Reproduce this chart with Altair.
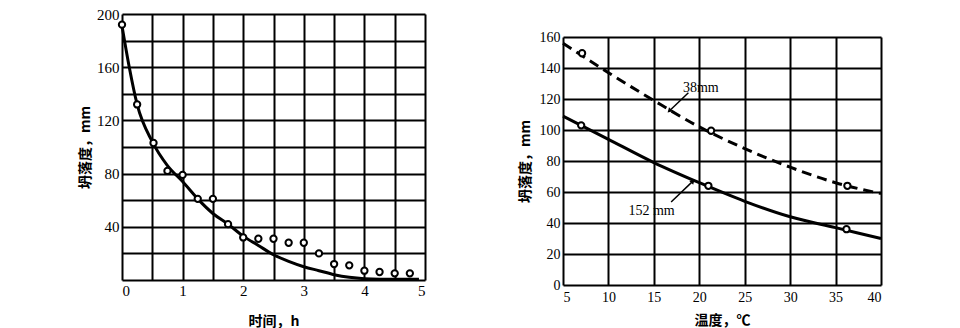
import altair as alt
import pandas as pd

# ---------------- Left panel: slump vs time ----------------
time_obs = [0, 0.25, 0.52, 0.75, 1.0, 1.25, 1.5, 1.75, 2.0, 2.25, 2.5, 2.75, 3.0, 3.25, 3.5, 3.75, 4.0, 4.25, 4.5, 4.75]
slump_obs = [192, 132, 103, 82, 79, 61, 61, 42, 32, 31, 31, 28, 28, 20, 12, 11, 7, 6, 5, 5]
time_fit = [0, 0.12, 0.25, 0.5, 0.75, 1.0, 1.25, 1.5, 1.75, 2.0, 2.25, 2.5, 2.75, 3.0, 3.25, 3.5, 3.75, 4.0, 4.5, 4.9]
slump_fit = [191, 160, 132, 104, 86, 74, 61, 50, 42, 33, 26, 19, 14, 10, 7, 4, 2, 1, 0.5, 0.5]

# ---------------- Right panel: slump vs temperature ----------------
temp_obs_38 = [7.1, 21.3, 36.3]
slump_obs_38 = [149.5, 99.5, 64]
temp_obs_152 = [7.0, 21.0, 36.2]
slump_obs_152 = [103, 64, 36]
temp_fit = [5, 10, 15, 20, 25, 30, 35, 40]
slump_fit_38 = [156, 137, 119, 102, 88, 76, 66, 59]
slump_fit_152 = [109, 94, 79, 66, 54, 44, 37, 30]

ann_text = ["38mm", "152 mm"]
ann_x = [18.2, 12.2]
ann_y = [127, 47.7]
arrow_x1 = [18.8, 16.9]
arrow_y1 = [124, 53.5]
arrow_x2 = [16.7, 19.3]
arrow_y2 = [112.3, 67]

SERIF = "Liberation Serif"
CJK = "Noto Sans CJK SC"

left_pts = pd.DataFrame({"t": time_obs, "s": slump_obs})
left_fit = pd.DataFrame({"t": time_fit, "s": slump_fit})

xl = alt.X("t:Q", scale=alt.Scale(domain=[0, 5], nice=False, zero=False),
           axis=alt.Axis(values=[i * 0.5 for i in range(11)], format=".1f",
                         labelExpr="datum.value % 1 == 0 ? format(datum.value, 'd') : ''",
                         labelOverlap=False,
                         title="时间，h", labelFontSize=15, labelFont=SERIF,
                         labelPadding=3, titlePadding=16, titleFont=CJK,
                         titleFontSize=14, titleFontWeight="bold"))
yl = alt.Y("s:Q", scale=alt.Scale(domain=[0, 200], nice=False),
           axis=alt.Axis(values=[i * 20 for i in range(11)],
                         labelExpr="datum.value % 40 == 0 && datum.value > 0 ? datum.label : ''",
                         labelOverlap=False,
                         title="坍落度，mm", labelFontSize=15, labelFont=SERIF,
                         labelPadding=3, titlePadding=4, titleFont=CJK,
                         titleFontSize=14, titleFontWeight="bold"))

left_line = alt.Chart(left_fit).mark_line(color="black", strokeWidth=3, interpolate="monotone").encode(x=xl, y=yl)
left_points = alt.Chart(left_pts).mark_point(shape="circle", size=40, fill="white", fillOpacity=1,
                                             stroke="black", strokeWidth=2, opacity=1).encode(x=xl, y=yl)
left = alt.layer(left_line, left_points).properties(width=303, height=266)

# right
fit_df = pd.DataFrame({"T": temp_fit * 2, "S": slump_fit_38 + slump_fit_152,
                       "series": ["38mm"] * len(temp_fit) + ["152mm"] * len(temp_fit)})
obs_df = pd.DataFrame({"T": temp_obs_38 + temp_obs_152, "S": slump_obs_38 + slump_obs_152})
ann_df = pd.DataFrame({"T": ann_x, "S": ann_y, "label": ann_text})
arr_df = pd.DataFrame({"T": arrow_x1, "S": arrow_y1, "T2": arrow_x2, "S2": arrow_y2, "k": [0, 1]})
head_df = pd.DataFrame({"T": arrow_x2, "S": arrow_y2, "k": [0, 1]})

xr = alt.X("T:Q", scale=alt.Scale(domain=[5, 40], nice=False, zero=False),
           axis=alt.Axis(values=[5 + 5 * i for i in range(8)], title="温度，℃", labelOverlap=False,
                         labelFontSize=14, labelFont=SERIF, labelPadding=5, titlePadding=9,
                         titleFont=CJK, titleFontSize=14, titleFontWeight="bold"))
yr = alt.Y("S:Q", scale=alt.Scale(domain=[0, 160], nice=False),
           axis=alt.Axis(values=[20 * i for i in range(9)], title="坍落度，mm", labelOverlap=False,
                         labelFontSize=14, labelFont=SERIF, labelPadding=3, titlePadding=7,
                         titleFont=CJK, titleFontSize=14, titleFontWeight="bold"))

dash_line = alt.Chart(fit_df).transform_filter("datum.series == '38mm'").mark_line(
    color="black", strokeWidth=3, strokeDash=[10, 6], interpolate="monotone").encode(x=xr, y=yr)
solid_line = alt.Chart(fit_df).transform_filter("datum.series == '152mm'").mark_line(
    color="black", strokeWidth=3, interpolate="monotone").encode(x=xr, y=yr)
right_points = alt.Chart(obs_df).mark_point(shape="circle", size=40, fill="white", fillOpacity=1,
                                            stroke="black", strokeWidth=2, opacity=1).encode(x=xr, y=yr)
texts = alt.Chart(ann_df).mark_text(align="left", baseline="middle", font=SERIF, fontSize=14,
                                    color="black").encode(x=xr, y=yr, text="label:N")
arrows = alt.Chart(arr_df).mark_rule(color="black", strokeWidth=1.5).encode(
    x=xr, y=yr, x2="T2:Q", y2="S2:Q")
head1 = alt.Chart(head_df).transform_filter("datum.k == 0").mark_point(
    shape="triangle-up", filled=True, color="black", size=30, opacity=1, angle=225).encode(x=xr, y=yr)
head2 = alt.Chart(head_df).transform_filter("datum.k == 1").mark_point(
    shape="triangle-up", filled=True, color="black", size=30, opacity=1, angle=45).encode(x=xr, y=yr)

right = alt.layer(dash_line, solid_line, right_points, arrows, head1, head2, texts).properties(width=318, height=248)

spacer = alt.Chart(pd.DataFrame({"v": [0]})).mark_point(opacity=0).encode(
    x=alt.value(0), y=alt.value(0)).properties(width=318, height=16)

chart = alt.hconcat(left, alt.vconcat(spacer, right, spacing=0), spacing=93).properties(
    padding={"left": 78, "top": 7, "right": 5, "bottom": 0}, background="white"
).configure_view(stroke=None).configure_axis(
    grid=True, gridColor="black", gridWidth=2, gridOpacity=1,
    domain=False, ticks=False, labelColor="black", titleColor="black"
)

chart.save("out.html", embed_options={"renderer": "svg", "actions": False})
